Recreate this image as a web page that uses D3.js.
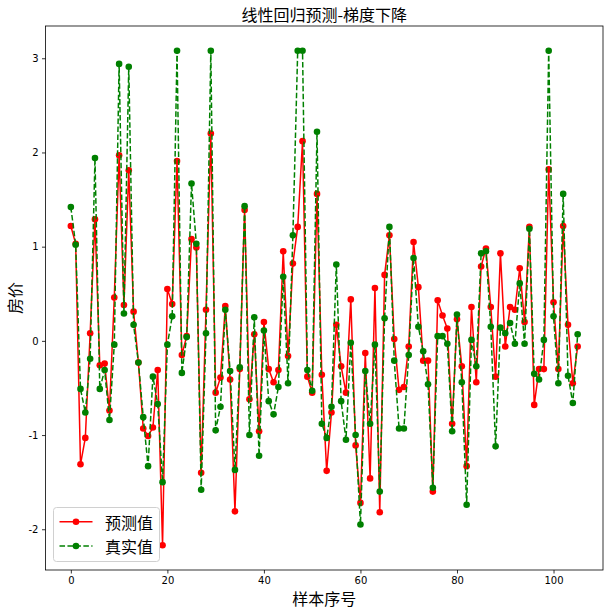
<!DOCTYPE html>
<html><head><meta charset="utf-8">
<script src="https://cdn.jsdelivr.net/npm/d3@7"></script>
<style>
html,body{margin:0;padding:0;background:#fff;}
svg{display:block;}
</style></head>
<body>
<script>
const titleText = "线性回归预测-梯度下降";
const xLabel = "样本序号";
const yLabel = "房价";
const seriesNames = ["预测值", "真实值"];
const xTicks = [0, 20, 40, 60, 80, 100];
const yTicks = [-2, -1, 0, 1, 2, 3];

const predicted = [1.22,1.03,-1.31,-1.03,0.08,1.29,-0.26,-0.24,-0.74,0.46,
1.97,0.38,1.81,0.31,-0.23,-0.93,-1.01,-0.92,-0.31,-2.17,
0.55,0.39,1.91,-0.15,0.05,1.08,0.99,-1.40,0.33,2.20,
-0.55,-0.39,0.37,-0.41,-1.81,-0.30,1.39,-0.62,0.07,-0.96,
0.20,-0.30,-0.44,-0.31,0.95,-0.16,0.82,1.21,2.12,-0.38,
-0.55,1.56,-0.36,-1.38,-0.76,0.17,-0.27,-0.55,0.44,-1.11,
-1.72,-0.13,-1.46,0.56,-1.82,0.70,1.12,0.02,-0.52,-0.49,
-0.06,1.05,0.57,-0.21,-0.21,-1.60,0.43,0.27,0.13,-0.88,
0.23,-0.27,-1.33,0.36,-0.44,0.79,0.98,0.36,-0.38,0.93,
-0.06,0.36,0.33,0.77,0.20,1.21,-0.68,-0.30,-0.30,1.82,
0.41,-0.30,1.22,0.17,-0.45,-0.06];

const actual = [1.42,1.02,-0.51,-0.76,-0.19,1.94,-0.51,-0.31,-0.84,-0.04,
2.94,0.29,2.91,0.17,-0.23,-0.81,-1.33,-0.38,-0.67,-1.50,
-0.04,0.26,3.08,-0.34,0.04,1.67,1.03,-1.58,0.08,3.08,
-0.95,-0.70,0.33,-0.32,-1.37,-0.28,1.43,-1.00,0.25,-1.22,
0.11,-0.64,-0.78,-0.49,0.68,-0.45,1.12,3.08,3.08,-0.31,
-0.53,2.22,-0.88,-1.03,-0.70,0.81,-0.64,-1.05,-0.02,-1.00,
-1.95,-0.32,-0.88,-0.04,-1.60,0.24,1.21,-0.21,-0.93,-0.93,
-0.15,0.88,0.15,-0.11,-0.46,-1.56,0.05,0.05,-0.03,-0.96,
0.28,-0.44,-1.74,0.01,-0.27,0.93,0.95,0.15,-1.12,0.14,
0.08,0.19,-0.03,0.61,-0.03,1.19,-0.35,-0.41,0.01,3.08,
0.26,-0.45,1.56,-0.37,-0.66,0.07];

const W = 610, H = 615;
const L = 45.5, R = 603, T = 26, B = 570;
const svg = d3.select("body").append("svg").attr("width", W).attr("height", H);

const n = predicted.length;
const xPad = (n - 1) * 0.05;
const x = d3.scaleLinear().domain([-xPad, n - 1 + xPad]).range([L, R]);
const all = predicted.concat(actual);
const ymin = d3.min(all), ymax = d3.max(all), yPad = (ymax - ymin) * 0.05;
const y = d3.scaleLinear().domain([ymin - yPad, ymax + yPad]).range([B, T]);

const tickFont = "'DejaVu Sans', sans-serif";
const cjk = "'Noto Sans CJK SC', 'Noto Sans', sans-serif";

// axes
const xAxis = svg.append("g").attr("transform", `translate(0,${B})`)
  .call(d3.axisBottom(x).tickValues(xTicks).tickSize(3.5).tickPadding(3.5).tickFormat(d3.format("d")));
const yAxis = svg.append("g").attr("transform", `translate(${L},0)`)
  .call(d3.axisLeft(y).tickValues(yTicks).tickSize(3.5).tickPadding(3.5).tickFormat(d => String(d)));
[xAxis, yAxis].forEach(g => {
  g.select(".domain").remove();
  g.selectAll(".tick line").attr("stroke", "#000").attr("stroke-width", 0.8);
  g.selectAll(".tick text").attr("font-family", tickFont).attr("font-size", 10).attr("fill", "#000");
});

// series
const clip = svg.append("clipPath").attr("id", "c").append("rect")
  .attr("x", L).attr("y", T).attr("width", R - L).attr("height", B - T);
const plot = svg.append("g").attr("clip-path", "url(#c)");
const line = d3.line().x((d, i) => x(i)).y(d => y(d));

const series = [
  {data: predicted, color: "#ff0000", dash: null},
  {data: actual, color: "#008000", dash: "5.55,2.4"}
];
series.forEach(s => {
  plot.append("path").datum(s.data).attr("d", line)
    .attr("fill", "none").attr("stroke", s.color).attr("stroke-width", 1.5)
    .attr("stroke-dasharray", s.dash).attr("stroke-linejoin", "round");
  plot.selectAll(null).data(s.data).enter().append("circle")
    .attr("cx", (d, i) => x(i)).attr("cy", d => y(d)).attr("r", 3.3)
    .attr("fill", s.color);
});

// frame
svg.append("rect").attr("x", L).attr("y", T).attr("width", R - L).attr("height", B - T)
  .attr("fill", "none").attr("stroke", "#000").attr("stroke-width", 0.8);

// title and labels
svg.append("text").attr("x", (L + R) / 2).attr("y", 21).attr("text-anchor", "middle")
  .attr("font-family", cjk).attr("font-size", 16).attr("fill", "#000").text(titleText);
svg.append("text").attr("x", (L + R) / 2).attr("y", 598).attr("text-anchor", "middle")
  .attr("dominant-baseline", "central")
  .attr("font-family", cjk).attr("font-size", 16).attr("fill", "#000").text(xLabel);
svg.append("text").attr("transform", `translate(13.5,${(T + B) / 2}) rotate(-90)`)
  .attr("text-anchor", "middle").attr("dominant-baseline", "central")
  .attr("font-family", cjk).attr("font-size", 16).attr("fill", "#000").text(yLabel);

// legend
const lg = svg.append("g");
lg.append("rect").attr("x", 53.5).attr("y", 507.5).attr("width", 106).attr("height", 54)
  .attr("rx", 3).attr("fill", "#fff").attr("fill-opacity", 0.8)
  .attr("stroke", "#d0d0d0").attr("stroke-width", 1);
series.forEach((s, k) => {
  const cy = 521.7 + k * 24.3;
  lg.append("line").attr("x1", 59.5).attr("x2", 92.5).attr("y1", cy).attr("y2", cy)
    .attr("stroke", s.color).attr("stroke-width", 1.5).attr("stroke-dasharray", s.dash);
  lg.append("circle").attr("cx", 76).attr("cy", cy).attr("r", 3.3).attr("fill", s.color);
  lg.append("text").attr("x", 105).attr("y", cy).attr("dominant-baseline", "central")
    .attr("font-family", cjk).attr("font-size", 16).attr("fill", "#000").text(seriesNames[k]);
});
</script>
</body></html>
